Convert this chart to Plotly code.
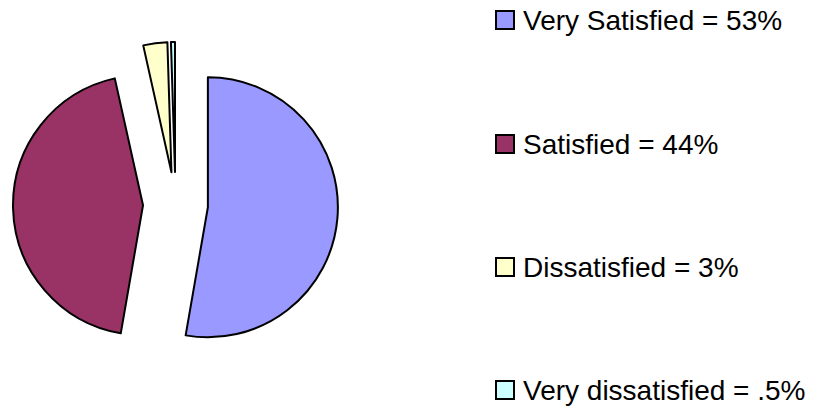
import plotly.graph_objects as go

# survey result shares (percent)
labels = ["Very Satisfied", "Satisfied", "Dissatisfied", "Very dissatisfied"]
values = [53, 44, 3, 0.5]
value_text = ["53%", "44%", "3%", ".5%"]
colors = ["#9999FF", "#993366", "#FFFFCC", "#CCFFFF"]

W, H = 827, 411


def px_x(x):
    return x / W


def px_y(y):
    return (H - y) / H


fig = go.Figure(
    go.Pie(
        labels=labels,
        values=values,
        sort=False,
        direction="clockwise",
        rotation=0,
        pull=0.25,
        textinfo="none",
        hoverinfo="label+percent",
        marker=dict(colors=colors, line=dict(color="black", width=2)),
        domain=dict(x=[px_x(13), px_x(338)], y=[px_y(367), px_y(42)]),
        showlegend=False,
    )
)

# hand-made legend: big squares with widely spaced rows
row_y = [20, 144, 267, 390]
for lab, txt, col, yc in zip(labels, value_text, colors, row_y):
    fig.add_shape(
        type="rect", xref="paper", yref="paper",
        x0=px_x(496), x1=px_x(514),
        y0=px_y(yc + 9), y1=px_y(yc - 9),
        fillcolor=col, line=dict(color="black", width=2),
    )
    fig.add_annotation(
        x=px_x(521), y=px_y(yc), xref="paper", yref="paper",
        xanchor="left", yanchor="middle", showarrow=False,
        text=f"{lab} = {txt}",
        font=dict(family="Arial, Liberation Sans", size=28, color="black"),
    )

fig.update_layout(
    width=W, height=H,
    margin=dict(l=0, r=0, t=0, b=0),
    paper_bgcolor="white",
    plot_bgcolor="white",
)

# drop the default page margin so the figure sits in the window corner
fig.write_html(
    "out.html",
    config={"displayModeBar": False},
    post_script="document.body.style.margin='0';",
)
